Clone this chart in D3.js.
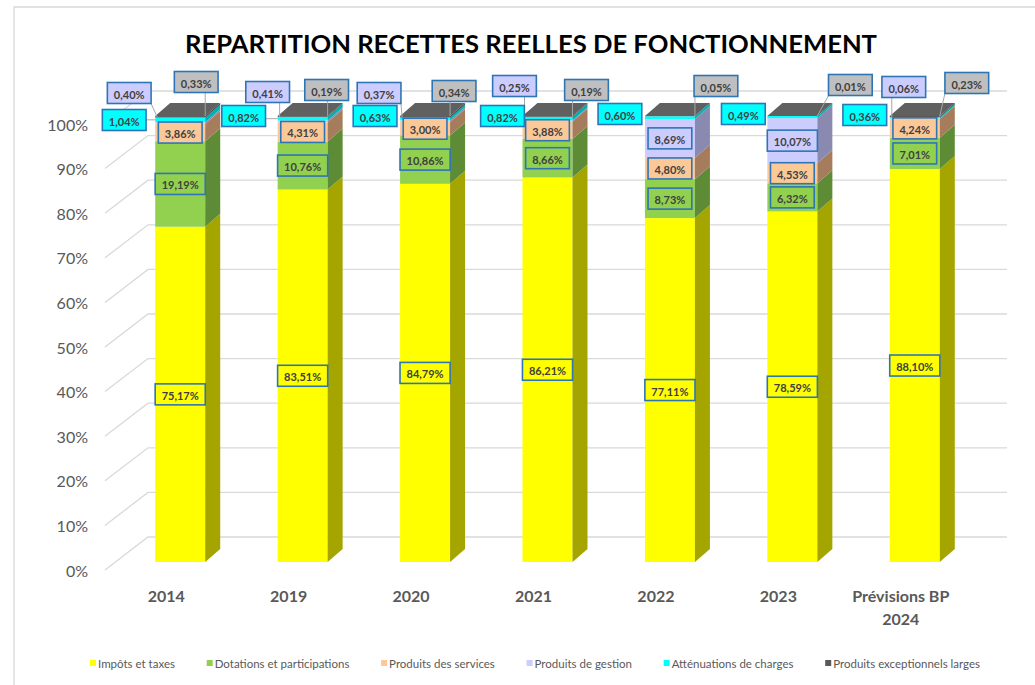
<!doctype html>
<html lang="fr">

<head>
    <meta charset="utf-8">
    <title>Répartition recettes réelles de fonctionnement</title>
    <style>
        body {
            margin: 0px;
            background: #ffffff;
            font-family: Lato, "Open Sans", sans-serif;
        }

        .title {
            font-weight: bold;
            font-size: 24px;
            fill: #000000;
            text-anchor: middle;
        }

        .grid-line {
            fill: none;
            stroke: #d9d9d9;
            stroke-width: 1.3;
        }

        .data-label rect {
            stroke: #2e75b6;
            stroke-width: 1.6;
        }

        .data-label text {
            font-size: 11px;
            font-weight: bold;
            fill: #404040;
            text-anchor: middle;
            dominant-baseline: central;
        }

        .leader {
            stroke: #a6a6a6;
            stroke-width: 1;
        }

        .legend text {
            font-size: 11.5px;
            fill: #595959;
            dominant-baseline: central;
        }
    </style>
</head>

<body>
</body>
<script src="https://d3js.org/d3.v7.min.js"></script>
<script>
    // data
    const categories = ['2014', '2019', '2020', '2021', '2022', '2023', 'Prévisions BP 2024'];
    const seriesNames = ['Impôts et taxes', 'Dotations et participations', 'Produits des services',
        'Produits de gestion', 'Atténuations de charges', 'Produits exceptionnels larges'];
    const impots = [75.17, 83.51, 84.79, 86.21, 77.11, 78.59, 88.10];
    const dotations = [19.19, 10.76, 10.86, 8.66, 8.73, 6.32, 7.01];
    const services = [3.86, 4.31, 3.00, 3.88, 4.80, 4.53, 4.24];
    const gestion = [0.40, 0.41, 0.37, 0.25, 8.69, 10.07, 0.06];
    const attenuations = [1.04, 0.82, 0.63, 0.82, 0.60, 0.49, 0.36];
    const exceptionnels = [0.33, 0.19, 0.34, 0.19, 0.05, 0.01, 0.23];
    const yTicks = [0, 10, 20, 30, 40, 50, 60, 70, 80, 90, 100];

    // styles
    const frontColors = ['#ffff00', '#92d050', '#fbc898', '#ccccff', '#00ffff', '#595959'];
    const sideColors = ['#a5a500', '#5e8c36', '#a67d5c', '#8a8ab0', '#00b0b0', '#3c3c3c'];
    const labelFills = ['#ffff00', '#92d050', '#fbc898', '#ccccff', '#00ffff', '#bfbfbf'];
    const topColor = '#606060';

    // where the small labels were moved to (offset from top of bar front)
    const calloutOffsets = [
        null, null, null,
        [[-51, -23], [-35, -24], [-46, -23], [-33, -30], null, null, [-11, -29]],
        [[-56, 4], [-59, 0], [-50, 0], [-45, 0], [-50, -2], [-49, -2], [-50, -1]],
        [[16, -34], [24, -26], [29, -25], [39, -26], [46, -30], [58, -31], [52, -33]]
    ];

    const allSeries = [impots, dotations, services, gestion, attenuations, exceptionnels];

    const width = 1035, height = 685;
    const floorDx = 43, floorDy = -33;   // depth of the floor
    const barOffX = 14, barOffY = -8;    // front of the bars inside the floor
    const barDx = 15, barDy = -13;       // depth of a bar
    const barWidth = 50;

    const svg = d3.select('body').append('svg')
        .attr('width', width)
        .attr('height', height);

    // chart frame
    svg.append('path')
        .attr('d', `M14,${height} L14,7 L${width},7`)
        .attr('fill', 'none')
        .attr('stroke', '#d9d9d9')
        .attr('stroke-width', 1.3);

    svg.append('text')
        .attr('class', 'title')
        .attr('x', 531)
        .attr('y', 53)
        .attr('textLength', 692)
        .attr('lengthAdjust', 'spacingAndGlyphs')
        .text('REPARTITION RECETTES REELLES DE FONCTIONNEMENT');

    const x = d3.scaleBand().domain(categories).range([105, 962]);
    const y = d3.scaleLinear().domain([0, 100]).range([570, 124]);

    // back wall + floor grid
    svg.append('g').selectAll('path')
        .data(yTicks)
        .enter()
        .append('path')
        .attr('class', 'grid-line')
        .attr('d', d => `M105,${y(d)} L${105 + floorDx},${y(d) + floorDy} L1007,${y(d) + floorDy}`);

    // y axis
    const yAxis = svg.append('g')
        .attr('transform', 'translate(88,1)')
        .call(d3.axisLeft(y).tickValues(yTicks).tickFormat(d => d + '%').tickSize(0).tickPadding(0));
    yAxis.select('.domain').remove();
    yAxis.selectAll('text')
        .attr('font-family', 'Lato, "Open Sans", sans-serif')
        .attr('font-size', 16)
        .attr('fill', '#595959');

    // x axis
    const xAxis = svg.append('g')
        .attr('transform', 'translate(0,590)')
        .call(d3.axisBottom(x).tickSize(0).tickPadding(0));
    xAxis.select('.domain').remove();
    xAxis.selectAll('text')
        .attr('font-family', 'Lato, "Open Sans", sans-serif')
        .attr('font-size', 16)
        .attr('font-weight', 'bold')
        .attr('fill', '#595959')
        .attr('dy', '0.75em')
        .each(function (d) {
            const t = d3.select(this);
            const words = d.split(' ');
            if (words.length > 2) {
                t.text(null);
                t.append('tspan').attr('x', 0).attr('dy', '0.75em').text(words.slice(0, 2).join(' '));
                t.append('tspan').attr('x', 0).attr('dy', '1.45em').text(words.slice(2).join(' '));
                t.attr('dy', null);
            }
        });

    // stacked values
    const stackData = categories.map((c, j) => {
        let acc = 0;
        return allSeries.map((s, i) => {
            const seg = { series: i, cat: j, value: s[j], y0: acc, y1: acc + s[j] };
            acc += s[j];
            return seg;
        });
    });

    const yb = v => y(v) + barOffY;
    const cx = c => x(c) + x.bandwidth() / 2 + barOffX;

    const bars = svg.append('g').attr('class', 'bars');

    stackData.forEach((segs, j) => {
        const c = categories[j];
        const left = cx(c) - barWidth / 2;
        const right = cx(c) + barWidth / 2;
        const g = bars.append('g');

        segs.forEach(s => {
            const top = yb(s.y1), bottom = yb(s.y0);
            g.append('rect')
                .attr('x', left)
                .attr('y', top)
                .attr('width', barWidth)
                .attr('height', Math.max(0, bottom - top))
                .attr('fill', frontColors[s.series]);
            g.append('path')
                .attr('d', `M${right},${top} L${right + barDx},${top + barDy} L${right + barDx},${bottom + barDy} L${right},${bottom} Z`)
                .attr('fill', sideColors[s.series]);
        });

        const last = segs[segs.length - 1];
        const yt = yb(last.y1);
        g.append('path')
            .attr('d', `M${left},${yt} L${left + barDx},${yt + barDy} L${right + barDx},${yt + barDy} L${right},${yt} Z`)
            .attr('fill', topColor);
    });

    // data labels
    const fmt = v => v.toFixed(2).replace('.', ',') + '%';
    const labels = svg.append('g');
    const leaders = labels.append('g');

    stackData.forEach((segs, j) => {
        const c = categories[j];
        const left = cx(c) - barWidth / 2;
        const right = cx(c) + barWidth / 2;
        const topY = yb(100);

        segs.forEach(s => {
            const off = calloutOffsets[s.series] ? calloutOffsets[s.series][j] : null;
            let lx, ly, anchor = null;
            if (off) {
                lx = cx(c) + off[0];
                ly = topY + off[1];
                if (s.series === 3) anchor = [left + 2, topY + 1];
                else if (s.series === 4) anchor = [left, yb((s.y0 + s.y1) / 2)];
                else anchor = [right, yb(s.y1)];
            } else {
                lx = cx(c);
                ly = yb((s.y0 + s.y1) / 2);
            }

            const lg = labels.append('g').attr('class', 'data-label');
            const rect = lg.append('rect').attr('fill', labelFills[s.series]);
            const txt = lg.append('text').attr('x', lx).attr('y', ly + 1).text(fmt(s.value));
            const tw = txt.node().getComputedTextLength();
            const bw = tw + 13, bh = 21;
            rect.attr('x', lx - bw / 2).attr('y', ly - bh / 2).attr('width', bw).attr('height', bh);

            if (anchor) {
                // nearest point on the label box
                const px = Math.max(lx - bw / 2, Math.min(anchor[0], lx + bw / 2));
                const py = Math.max(ly - bh / 2, Math.min(anchor[1], ly + bh / 2));
                const dist = Math.hypot(px - anchor[0], py - anchor[1]);
                if (dist > 4) {
                    leaders.append('line')
                        .attr('class', 'leader')
                        .attr('x1', px).attr('y1', py)
                        .attr('x2', anchor[0]).attr('y2', anchor[1]);
                }
            }
        });
    });

    // legend, spread between x=90 and x=980
    const legend = svg.append('g').attr('class', 'legend').attr('transform', 'translate(90,663)');
    const items = seriesNames.map((name, i) => {
        const item = legend.append('g');
        item.append('rect')
            .attr('x', 0).attr('y', -3)
            .attr('width', 6).attr('height', 6)
            .attr('fill', frontColors[i]);
        const t = item.append('text').attr('x', 8).attr('y', 0).text(name);
        return { item, w: 8 + t.node().getComputedTextLength() };
    });
    const totalW = d3.sum(items, d => d.w);
    const gap = (890 - totalW) / (items.length - 1);
    let lx = 0;
    items.forEach(d => {
        d.item.attr('transform', `translate(${lx},0)`);
        lx += d.w + gap;
    });
</script>

</html>
